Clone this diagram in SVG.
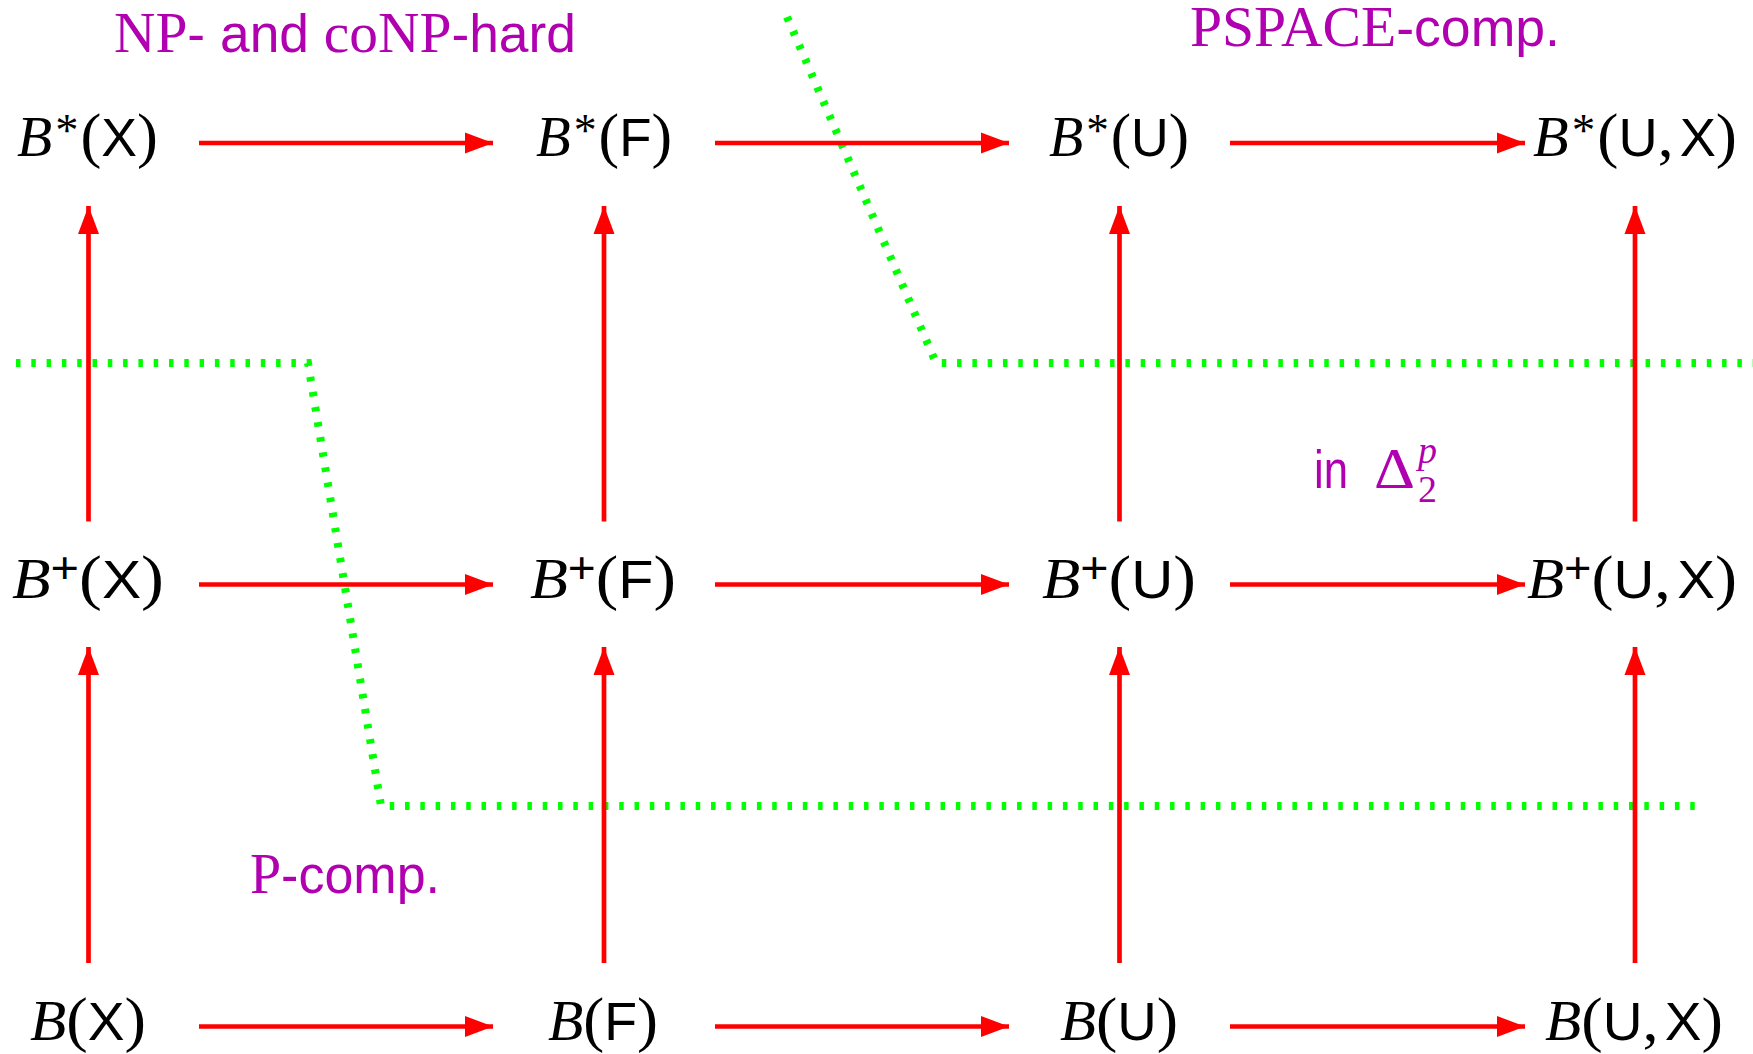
<svg xmlns="http://www.w3.org/2000/svg" width="1753" height="1054" viewBox="0 0 1753 1054">
<defs>
<style>
.node{fill:#000;}
.mi{font-family:"Liberation Serif",serif;font-style:italic;}
.rm{font-family:"Liberation Serif",serif;}
.sf{font-family:"Liberation Sans",sans-serif;}
.node .mi{font-size:57px;}
.node .rm{font-size:62px;}
.node .sf{font-size:53px;}
.node .sup{font-family:"Liberation Serif",serif;font-size:46px;}
.node .supp{font-family:"Liberation Sans",sans-serif;font-size:44px;}
.lbl{fill:#B000B0;}
.lbl .rm, .lbl.rm{font-size:57px;}
.lbl .sf, .lbl.sf{font-size:53px;}
.arr{stroke:#ff0000;stroke-width:4.7;fill:none;marker-end:url(#ah);}
.dot{stroke:#00ff00;stroke-width:8;fill:none;stroke-dasharray:4.5 10.8;}
</style>
<marker id="ah" markerUnits="userSpaceOnUse" markerWidth="30" markerHeight="24" refX="28" refY="10.5" orient="auto" viewBox="0 0 30 21">
<path d="M0,0 L28,10.5 L0,21 Z" fill="#ff0000"/>
</marker>
</defs>
<rect width="1753" height="1054" fill="#fff"/>

<g id="regions">
<polyline class="dot" points="16,363 308,363 381,806 1703,806"/>
<polyline class="dot" points="787,17 936,363 1753,363"/>
</g>

<g id="connectors">
<line class="arr" x1="199" y1="143" x2="493" y2="143"/>
<line class="arr" x1="715" y1="143" x2="1009" y2="143"/>
<line class="arr" x1="1230" y1="143" x2="1525" y2="143"/>
<line class="arr" x1="199" y1="584.5" x2="493" y2="584.5"/>
<line class="arr" x1="715" y1="584.5" x2="1009" y2="584.5"/>
<line class="arr" x1="1230" y1="584.5" x2="1525" y2="584.5"/>
<line class="arr" x1="199" y1="1026.5" x2="493" y2="1026.5"/>
<line class="arr" x1="715" y1="1026.5" x2="1009" y2="1026.5"/>
<line class="arr" x1="1230" y1="1026.5" x2="1525" y2="1026.5"/>
<line class="arr" x1="88.5" y1="521.5" x2="88.5" y2="206"/>
<line class="arr" x1="604" y1="521.5" x2="604" y2="206"/>
<line class="arr" x1="1119.5" y1="521.5" x2="1119.5" y2="206"/>
<line class="arr" x1="1635" y1="521.5" x2="1635" y2="206"/>
<line class="arr" x1="88.5" y1="963" x2="88.5" y2="647"/>
<line class="arr" x1="604" y1="963" x2="604" y2="647"/>
<line class="arr" x1="1119.5" y1="963" x2="1119.5" y2="647"/>
<line class="arr" x1="1635" y1="963" x2="1635" y2="647"/>
</g>

<g id="n-Bstar-X"><text class="node" x="87.5" y="156" text-anchor="middle" textLength="141" lengthAdjust="spacingAndGlyphs"><tspan class="mi">B</tspan><tspan class="sup" dx="3" dy="-10">*</tspan><tspan class="rm" dx="2" dy="10">(</tspan><tspan class="sf">X</tspan><tspan class="rm">)</tspan></text></g>
<g id="n-Bstar-F"><text class="node" x="604" y="156" text-anchor="middle" textLength="136" lengthAdjust="spacingAndGlyphs"><tspan class="mi">B</tspan><tspan class="sup" dx="3" dy="-10">*</tspan><tspan class="rm" dx="2" dy="10">(</tspan><tspan class="sf">F</tspan><tspan class="rm">)</tspan></text></g>
<g id="n-Bstar-U"><text class="node" x="1119" y="156" text-anchor="middle" textLength="140" lengthAdjust="spacingAndGlyphs"><tspan class="mi">B</tspan><tspan class="sup" dx="3" dy="-10">*</tspan><tspan class="rm" dx="2" dy="10">(</tspan><tspan class="sf">U</tspan><tspan class="rm">)</tspan></text></g>
<g id="n-Bstar-UX"><text class="node" x="1635" y="156" text-anchor="middle" textLength="204" lengthAdjust="spacingAndGlyphs"><tspan class="mi">B</tspan><tspan class="sup" dx="3" dy="-10">*</tspan><tspan class="rm" dx="2" dy="10">(</tspan><tspan class="sf">U</tspan><tspan class="rm">,</tspan><tspan class="sf" dx="6">X</tspan><tspan class="rm">)</tspan></text></g>

<g id="n-Bplus-X"><text class="node" x="88" y="597.5" text-anchor="middle" textLength="152" lengthAdjust="spacingAndGlyphs"><tspan class="mi">B</tspan><tspan class="supp" dy="-15">+</tspan><tspan class="rm" dy="15">(</tspan><tspan class="sf">X</tspan><tspan class="rm">)</tspan></text></g>
<g id="n-Bplus-F"><text class="node" x="603" y="597.5" text-anchor="middle" textLength="146" lengthAdjust="spacingAndGlyphs"><tspan class="mi">B</tspan><tspan class="supp" dy="-15">+</tspan><tspan class="rm" dy="15">(</tspan><tspan class="sf">F</tspan><tspan class="rm">)</tspan></text></g>
<g id="n-Bplus-U"><text class="node" x="1119" y="597.5" text-anchor="middle" textLength="154" lengthAdjust="spacingAndGlyphs"><tspan class="mi">B</tspan><tspan class="supp" dy="-15">+</tspan><tspan class="rm" dy="15">(</tspan><tspan class="sf">U</tspan><tspan class="rm">)</tspan></text></g>
<g id="n-Bplus-UX"><text class="node" x="1632" y="597.5" text-anchor="middle" textLength="210" lengthAdjust="spacingAndGlyphs"><tspan class="mi">B</tspan><tspan class="supp" dy="-15">+</tspan><tspan class="rm" dy="15">(</tspan><tspan class="sf">U</tspan><tspan class="rm">,</tspan><tspan class="sf" dx="6">X</tspan><tspan class="rm">)</tspan></text></g>

<g id="n-B-X"><text class="node" x="88" y="1039.5" text-anchor="middle" textLength="116" lengthAdjust="spacingAndGlyphs"><tspan class="mi">B</tspan><tspan class="rm">(</tspan><tspan class="sf">X</tspan><tspan class="rm">)</tspan></text></g>
<g id="n-B-F"><text class="node" x="603" y="1039.5" text-anchor="middle" textLength="110" lengthAdjust="spacingAndGlyphs"><tspan class="mi">B</tspan><tspan class="rm">(</tspan><tspan class="sf">F</tspan><tspan class="rm">)</tspan></text></g>
<g id="n-B-U"><text class="node" x="1119" y="1039.5" text-anchor="middle" textLength="118" lengthAdjust="spacingAndGlyphs"><tspan class="mi">B</tspan><tspan class="rm">(</tspan><tspan class="sf">U</tspan><tspan class="rm">)</tspan></text></g>
<g id="n-B-UX"><text class="node" x="1634" y="1039.5" text-anchor="middle" textLength="178" lengthAdjust="spacingAndGlyphs"><tspan class="mi">B</tspan><tspan class="rm">(</tspan><tspan class="sf">U</tspan><tspan class="rm">,</tspan><tspan class="sf" dx="6">X</tspan><tspan class="rm">)</tspan></text></g>

<g id="labels">
<text class="lbl" x="114" y="52" textLength="462" lengthAdjust="spacingAndGlyphs"><tspan class="rm">NP</tspan><tspan class="sf">- and </tspan><tspan class="rm">coNP</tspan><tspan class="sf">-hard</tspan></text>
<text class="lbl" x="1190" y="46" textLength="370" lengthAdjust="spacingAndGlyphs"><tspan class="rm">PSPACE</tspan><tspan class="sf">-comp.</tspan></text>
<text class="lbl" x="250" y="893" textLength="190" lengthAdjust="spacingAndGlyphs"><tspan class="rm">P</tspan><tspan class="sf">-comp.</tspan></text>
<text class="lbl sf" x="1314" y="488" textLength="34" lengthAdjust="spacingAndGlyphs">in</text>
<text class="lbl rm" x="1374" y="488" textLength="41" lengthAdjust="spacingAndGlyphs">Δ</text>
<text class="rm" x="1418" y="502" font-size="38" fill="#B000B0">2</text>
<text class="mi" x="1418" y="463" font-size="38" fill="#B000B0">p</text>
</g>
</svg>
